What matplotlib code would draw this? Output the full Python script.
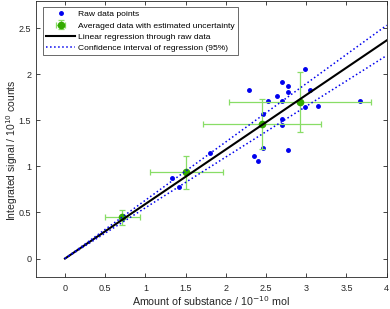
import numpy as np
import matplotlib
matplotlib.use('Agg')
import matplotlib.pyplot as plt

plt.rcParams['font.family'] = ['Liberation Sans', 'DejaVu Sans']

# raw data points (amount / 1e-10 mol, signal / 1e10 counts)
raw_x = [1.33, 1.42, 1.80, 2.29, 2.35, 2.40, 2.46, 2.46, 2.52, 2.64, 2.70,
         2.70, 2.70, 2.70, 2.77, 2.77, 2.77, 2.98, 3.05, 2.98, 3.14, 3.67]
raw_y = [0.87, 0.78, 1.15, 1.83, 1.11, 1.06, 1.57, 1.20, 1.71, 1.76, 1.71,
         1.92, 1.51, 1.45, 1.87, 1.81, 1.18, 2.06, 1.83, 1.64, 1.66, 1.71]

# averaged data with uncertainty
avg_x = [0.715, 1.51, 2.45, 2.92]
avg_y = [0.446, 0.935, 1.46, 1.70]
avg_xerr = [0.22, 0.45, 0.735, 0.88]
avg_yerr = [0.085, 0.18, 0.27, 0.33]

# regression through origin and its confidence interval on the slope
slope = 0.592
slope_ci = 0.041
x_fit = np.array([0, 4.0])

fig = plt.figure(figsize=(3.9, 3.09), dpi=100)
ax = fig.add_axes([0.0923, 0.1036, 0.8992, 0.8945])

grey = '#262626'

h1, = ax.plot(raw_x, raw_y, '.', color='#0000ee', ms=5)
h2 = ax.errorbar(avg_x, avg_y, xerr=avg_xerr, yerr=avg_yerr, fmt='o',
                 color='#33aa00', ms=4.5, ecolor='#88dd66', elinewidth=0.9,
                 capsize=2, capthick=0.9, zorder=3)
h3, = ax.plot(x_fit, slope * x_fit, '-', color='k', lw=1.5, zorder=4)
h4, = ax.plot(x_fit, (slope + slope_ci) * x_fit, ':', color='#0000ee',
              lw=1.1, zorder=4)
ax.plot(x_fit, (slope - slope_ci) * x_fit, ':', color='#0000ee', lw=1.1,
        zorder=4)

ax.set_xlim(-0.36, 4)
ax.set_ylim(-0.2, 2.8)
ax.set_xticks([0, 0.5, 1, 1.5, 2, 2.5, 3, 3.5, 4])
ax.set_xticklabels(['0', '0.5', '1', '1.5', '2', '2.5', '3', '3.5', '4'])
ax.set_yticks([0, 0.5, 1, 1.5, 2, 2.5])
ax.set_yticklabels(['0', '0.5', '1', '1.5', '2', '2.5'])

ax.tick_params(direction='in', length=3, width=0.6, colors=grey,
               labelsize=6.5, top=True, right=True)
ax.tick_params(axis='x', pad=5)
ax.tick_params(axis='y', pad=3.5)
for s in ax.spines.values():
    s.set_color(grey)
    s.set_linewidth(0.6)

ax.set_xlabel('Amount of substance / 10$^{-10}$ mol', fontsize=7.7,
              color=grey)
ax.set_ylabel('Integrated signal / 10$^{10}$ counts', fontsize=7.5,
              color=grey)
ax.xaxis.set_label_coords((211 - 36) / 351, -(301 - 277) / 276.4)
ax.yaxis.set_label_coords((12 - 36) / 351, (277 - 150) / 276.4)
ax.xaxis.label.set_va('center')
ax.yaxis.label.set_va('center')

leg = ax.legend([h1, h2, h3, h4],
                ['Raw data points',
                 'Averaged data with estimated uncertainty',
                 'Linear regression through raw data',
                 'Confidence interval of regression (95%)'],
                loc='upper left', fontsize=6.1, frameon=True, fancybox=False,
                edgecolor=grey, handlelength=3.5, handletextpad=0.35,
                borderpad=0.35, labelspacing=0.4, borderaxespad=0.8)
leg.get_frame().set_linewidth(0.6)

fig.savefig('out.png', dpi=100)
